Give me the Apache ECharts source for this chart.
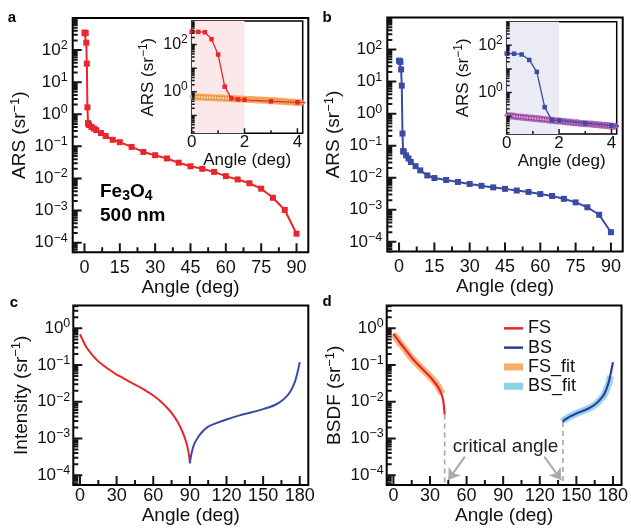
<!DOCTYPE html>
<html><head><meta charset="utf-8">
<script src="https://cdn.jsdelivr.net/npm/echarts@6/dist/echarts.min.js"></script>
<style>html,body{margin:0;padding:0;background:#fff}#c{width:631px;height:529px}</style>
</head><body><div id="c"></div><script>
// ---------------- data ----------------
const aAngles = [0,0.25,0.5,0.75,1,1.25,1.5,1.75,2,3,4,5,7,9,12,15,20,25,30,35,40,45,50,55,60,65,70,75,80,85,90];
const aValues = [350,345,335,170,38,1.65,0.53,0.48,0.46,0.40,0.36,0.32,0.26,0.21,0.16,0.135,0.096,0.067,0.053,0.042,0.031,0.024,0.020,0.016,0.0118,0.0093,0.0071,0.0048,0.0025,0.00104,0.00019];
const bAngles = [0,0.28,0.57,0.86,1.15,1.45,1.72,2,3,4,5,7,9,12,15,20,25,30,35,40,45,50,55,60,65,70,75,80,85,90];
const bValues = [45,44,41,24,7.5,0.24,0.068,0.065,0.050,0.040,0.031,0.023,0.017,0.0118,0.0098,0.0085,0.0074,0.0064,0.0056,0.0050,0.0045,0.0040,0.0036,0.0031,0.0027,0.0022,0.0017,0.0012,0.0007,0.0002];
const fitAngles = [0,0.1,0.2,0.3,0.4,0.5,0.6,0.7,0.8,0.9,1.0,1.1,1.2,1.3,1.4,1.5,1.6,1.7,1.8,1.9,2.0,2.1,2.2,2.3,2.4,2.5,2.6,2.7,2.8,2.9,3.0,3.1,3.2,3.3,3.4,3.5,3.6,3.7,3.8,3.9,4.0,4.1,4.2];
const aFitValues = [0.63,0.62,0.61,0.60,0.59,0.585,0.58,0.57,0.565,0.56,0.55,0.545,0.54,0.53,0.525,0.52,0.51,0.505,0.50,0.495,0.49,0.48,0.475,0.47,0.46,0.455,0.45,0.44,0.435,0.43,0.42,0.415,0.41,0.40,0.395,0.39,0.38,0.375,0.37,0.36,0.355,0.35,0.345];
const bFitValues = [0.107,0.104,0.101,0.098,0.095,0.093,0.090,0.088,0.085,0.083,0.081,0.079,0.077,0.075,0.073,0.071,0.069,0.067,0.065,0.063,0.062,0.060,0.059,0.057,0.056,0.054,0.053,0.052,0.050,0.049,0.048,0.047,0.046,0.045,0.044,0.043,0.042,0.041,0.040,0.039,0.038,0.0375,0.037];
const cRedAngles = [0,2,5,10,15,20,25,30,35,40,45,50,55,60,65,70,75,80,84,87,89,90];
const cRedValues = [0.69,0.50,0.316,0.19,0.126,0.093,0.071,0.055,0.045,0.036,0.0295,0.024,0.019,0.0148,0.011,0.0076,0.005,0.0028,0.0015,0.00079,0.0004,0.00022];
const cBlueAngles = [90,91,93,96,100,105,110,120,130,140,150,155,160,165,170,173,176,178,180];
const cBlueValues = [0.00021,0.00035,0.00063,0.001,0.0015,0.0021,0.0025,0.0033,0.0042,0.0051,0.0063,0.0071,0.0083,0.0105,0.015,0.021,0.035,0.06,0.12];
const dFSAngles = [0,3,6,10,15,20,25,30,35,38,40,41,42];
const dFSValues = [0.72,0.52,0.38,0.26,0.158,0.105,0.071,0.048,0.030,0.021,0.014,0.010,0.0045];
const dFSFitAngles = [0,3,6,10,15,20,25,30,35,38,40];
const dFSFitValues = [0.70,0.51,0.37,0.255,0.155,0.104,0.071,0.049,0.031,0.022,0.0165];
const dBSAngles = [139,140,142,145,150,155,160,165,170,173,176,178,180];
const dBSValues = [0.0028,0.0032,0.0035,0.004,0.0048,0.0056,0.0066,0.0083,0.012,0.0166,0.030,0.056,0.12];
const dBSFitAngles = [139,140,142,145,150,155,160,165,170,173,176,178];
const dBSFitValues = [0.0029,0.0032,0.0035,0.004,0.0048,0.0056,0.0066,0.0082,0.0118,0.016,0.028,0.05];
const criticalAngles = [42,139];
const criticalTops = [0.0045,0.0028];
// tick labels
const mainXTicks = [0,15,30,45,60,75,90];
const mainXMinor = [7.5,22.5,37.5,52.5,67.5,82.5];
const mainYLabels = [1e-4,1e-3,1e-2,1e-1,1,10,100];
const insetXTicks = [0,2,4];
const insetXMinor = [1,3];
const insetYMajor = [0.1,1,10,100];
const insetYLabels = [1,100];
const cdXTicks = [0,30,60,90,120,150,180];
const cdXMinor = [15,45,75,105,135,165];
const cdYLabels = [1e-4,1e-3,1e-2,1e-1,1];

// ---------------- helpers ----------------
const FONT = '"Liberation Sans", Arial, Helvetica, sans-serif';
const RED = '#E8262B', BLUE = '#3A4BA6', TICK = '#151515';
const zip = (xs, ys) => xs.map((x, i) => [x, ys[i]]);
function minors(lo, hi) {
  const out = [];
  for (let k = -6; k <= 3; k++) for (let m = 2; m <= 9; m++) {
    const v = m * Math.pow(10, k);
    if (v >= lo && v <= hi) out.push(v);
  }
  return out;
}
function supText(v) {
  const e = Math.round(Math.log10(v));
  return '{m|10}{e|' + (e < 0 ? '\u2212' + (-e) : String(e)) + '}';
}
const grids = [], xAxis = [], yAxis = [], series = [];
// tick marks: short inward segments drawn as a gapped line series on the panel's own axes
function tickSeries(p, c, dim, vals, len) {
  const data = [];
  if (dim === 'x') {
    const f = Math.pow(10, len * Math.log10(c.ymax / c.ymin) / c.h);
    vals.forEach(v => data.push([v, c.ymin], [v, c.ymin * f], ['-', '-']));
  } else {
    const dx = len * (c.xmax - c.xmin) / c.w;
    vals.forEach(v => data.push([c.xmin, v], [c.xmin + dx, v], ['-', '-']));
  }
  series.push({type: 'line', xAxisIndex: p.xi, yAxisIndex: p.yi, data: data, symbol: 'none',
    silent: true, clip: false, z: 6, lineStyle: {color: TICK, width: c.tw}});
}
function panel(c) {
  const gi = grids.length;
  grids.push({left: c.l, top: c.t, width: c.w, height: c.h, show: true, borderColor: '#000', borderWidth: c.bw});
  const xi = xAxis.length, yi = yAxis.length;
  const base = () => ({gridIndex: gi, splitLine: {show: false}, axisTick: {show: false}, axisLine: {show: false, onZero: false}});
  xAxis.push(Object.assign(base(), {type: 'value', position: 'bottom', min: c.xmin, max: c.xmax,
    name: c.xname, nameLocation: 'middle', nameGap: c.xnameGap,
    nameTextStyle: {fontFamily: FONT, fontSize: c.nameSize, color: '#111'},
    axisLabel: {show: true, customValues: c.xMajorLabels, margin: c.xMargin, fontFamily: FONT, fontSize: c.xLabelSize, color: '#111', formatter: v => String(v)}}));
  yAxis.push(Object.assign(base(), {type: 'log', logBase: 10, position: 'left', min: c.ymin, max: c.ymax,
    name: c.yname, nameLocation: 'middle', nameGap: c.ynameGap,
    nameTextStyle: {fontFamily: FONT, fontSize: c.nameSize, color: '#111', lineHeight: 22,
      rich: {s: {fontFamily: FONT, fontSize: Math.round(c.nameSize * 0.68), color: '#111', verticalAlign: 'top', lineHeight: 12}}},
    axisLabel: {show: true, customValues: c.yLabels, margin: c.yMargin, formatter: supText,
      rich: {m: {fontFamily: FONT, fontSize: c.yLabelSize, color: '#111', lineHeight: 22},
             e: {fontFamily: FONT, fontSize: c.supSize, color: '#111', verticalAlign: 'top', lineHeight: 12}}}}));
  const p = {xi: xi, yi: yi};
  tickSeries(p, c, 'x', c.xMajor, c.maj);
  tickSeries(p, c, 'x', c.xMinor, c.min);
  tickSeries(p, c, 'y', c.yMajor, c.maj);
  tickSeries(p, c, 'y', minors(c.ymin, c.ymax), c.min);
  return p;
}
const yName = (t) => t + ' (sr{s|\u22121})';
const mainCfg = {bw: 2, xmin: -5, xmax: 95, ymin: 5e-5, ymax: 1000, xMajor: mainXTicks, xMajorLabels: mainXTicks, xMinor: mainXMinor,
  yMajor: mainYLabels, yLabels: mainYLabels, xname: 'Angle (deg)', nameSize: 19, xnameGap: 21, xMargin: 7, yMargin: 5,
  xLabelSize: 18, yLabelSize: 17, supSize: 12.5, maj: 9, min: 5, tw: 2};
const insetCfg = {bw: 1.5, xmin: 0, xmax: 4.2, ymin: 0.0175, ymax: 1000, xMajor: insetXTicks, xMajorLabels: insetXTicks, xMinor: insetXMinor,
  yMajor: insetYMajor, yLabels: insetYLabels, xname: 'Angle (deg)', yname: yName('ARS'), nameSize: 17, xnameGap: 17, ynameGap: 27, xMargin: 1, yMargin: 4,
  xLabelSize: 17, yLabelSize: 16, supSize: 12, maj: 5, min: 3, tw: 1.5};
const cdCfg = {bw: 2, xmin: -5.5, xmax: 187, ymin: 5.4e-5, ymax: 4.2, xMajor: cdXTicks, xMajorLabels: cdXTicks, xMinor: cdXMinor,
  yMajor: cdYLabels, yLabels: cdYLabels, xname: 'Angle (deg)', nameSize: 19, xnameGap: 19, xMargin: 2, yMargin: 3,
  xLabelSize: 18, yLabelSize: 17, supSize: 12.5, maj: 9, min: 5, tw: 2};

const A = panel(Object.assign({}, mainCfg, {l: 72.7, t: 18, w: 235.6, h: 234.3, yname: yName('ARS'), ynameGap: 38}));
const AI = panel(Object.assign({}, insetCfg, {l: 191.7, t: 21, w: 111, h: 112.3}));
const B = panel(Object.assign({}, mainCfg, {l: 387.3, t: 17.5, w: 235.4, h: 234, yname: yName('ARS'), ynameGap: 39.5}));
const BI = panel(Object.assign({}, insetCfg, {l: 506.7, t: 21.7, w: 110, h: 112.3, ynameGap: 28}));
const C = panel(Object.assign({}, cdCfg, {l: 73.3, t: 305.5, w: 235, h: 179.5, yname: yName('Intensity'), ynameGap: 41}));
const D = panel(Object.assign({}, cdCfg, {l: 386.7, t: 305.5, w: 235, h: 179.5, yname: yName('BSDF'), ynameGap: 40.5}));

const on = (p) => ({xAxisIndex: p.xi, yAxisIndex: p.yi});
// panel a
series.push(Object.assign(on(A), {type: 'line', data: zip(aAngles, aValues), symbol: 'rect', symbolSize: 6,
  lineStyle: {color: RED, width: 2}, itemStyle: {color: RED}, z: 3, clip: true}));
series.push(Object.assign(on(AI), {type: 'line', data: [], z: 1,
  markArea: {silent: true, itemStyle: {color: '#FCE8E9'}, data: [[{xAxis: 0}, {xAxis: 2}]]}}));
series.push(Object.assign(on(AI), {type: 'line', data: zip(fitAngles, aFitValues), symbol: 'circle', symbolSize: 3.5,
  lineStyle: {color: '#F6A24F', width: 7, opacity: 0.9}, itemStyle: {color: '#FFD7A6', borderColor: '#E27C22', borderWidth: 0.7}, z: 2, clip: true}));
series.push(Object.assign(on(AI), {type: 'line', data: zip(aAngles, aValues), symbol: 'rect', symbolSize: 4.5,
  lineStyle: {color: RED, width: 1.3}, itemStyle: {color: RED}, z: 3, clip: true}));
// panel b
series.push(Object.assign(on(B), {type: 'line', data: zip(bAngles, bValues), symbol: 'rect', symbolSize: 6,
  lineStyle: {color: BLUE, width: 2}, itemStyle: {color: BLUE}, z: 3, clip: true}));
series.push(Object.assign(on(BI), {type: 'line', data: [], z: 1,
  markArea: {silent: true, itemStyle: {color: '#EBEBF6'}, data: [[{xAxis: 0}, {xAxis: 2}]]}}));
series.push(Object.assign(on(BI), {type: 'line', data: zip(fitAngles, bFitValues), symbol: 'circle', symbolSize: 3.5,
  lineStyle: {color: '#B156B3', width: 7, opacity: 0.9}, itemStyle: {color: '#D9A6DA', borderColor: '#7E2A80', borderWidth: 0.7}, z: 2, clip: true}));
series.push(Object.assign(on(BI), {type: 'line', data: zip(bAngles, bValues), symbol: 'rect', symbolSize: 4.5,
  lineStyle: {color: BLUE, width: 1.3}, itemStyle: {color: BLUE}, z: 3, clip: true}));
// panel c
series.push(Object.assign(on(C), {type: 'line', data: zip(cRedAngles, cRedValues), symbol: 'none', smooth: 0.3,
  lineStyle: {color: RED, width: 2}, z: 3}));
series.push(Object.assign(on(C), {type: 'line', data: zip(cBlueAngles, cBlueValues), symbol: 'none', smooth: 0.3,
  lineStyle: {color: BLUE, width: 2}, z: 3}));
// panel d
series.push(Object.assign(on(D), {name: 'FS_fit', type: 'line', data: zip(dFSFitAngles, dFSFitValues), symbol: 'none', smooth: 0.3,
  color: '#F7AE6A', lineStyle: {color: '#F7AE6A', width: 7, opacity: 0.9}, itemStyle: {color: '#F7AE6A'}, z: 2}));
series.push(Object.assign(on(D), {name: 'BS_fit', type: 'line', data: zip(dBSFitAngles, dBSFitValues), symbol: 'none', smooth: 0.3,
  color: '#8DD3E7', lineStyle: {color: '#8DD3E7', width: 7, opacity: 0.9}, itemStyle: {color: '#8DD3E7'}, z: 2}));
series.push(Object.assign(on(D), {name: 'FS', type: 'line', data: zip(dFSAngles, dFSValues), symbol: 'none', smooth: 0.3,
  color: RED, lineStyle: {color: RED, width: 2.2}, itemStyle: {color: RED}, z: 3}));
series.push(Object.assign(on(D), {name: 'BS', type: 'line', data: zip(dBSAngles, dBSValues), symbol: 'none', smooth: 0.3,
  color: '#2C3E9E', lineStyle: {color: '#2C3E9E', width: 2.2}, itemStyle: {color: '#2C3E9E'}, z: 3}));
criticalAngles.forEach((ang, i) => {
  series.push(Object.assign(on(D), {type: 'line', data: [[ang, criticalTops[i]], [ang, cdCfg.ymin]], symbol: 'none',
    lineStyle: {color: '#A6A6A6', width: 1.6, type: [5, 4]}, z: 2}));
});
series.push(Object.assign(on(D), {type: 'line', data: [], z: 4,
  markLine: {silent: true, symbol: ['none', 'arrow'], symbolSize: 11, label: {show: false},
    lineStyle: {color: '#A9A9A9', width: 2, type: 'solid'},
    data: [[{coord: [58.6, 3.2e-4]}, {coord: [45, 7.4e-5]}], [{coord: [123.7, 3.2e-4]}, {coord: [137.5, 7.4e-5]}]]}}));

const legendText = {fontFamily: FONT, fontSize: 18, color: '#111', lineHeight: 19.3};
const option = {
  animation: false,
  grid: grids, xAxis: xAxis, yAxis: yAxis, series: series,
  legend: [
    {data: ['FS', 'BS'], orient: 'vertical', left: 504, top: 318.7, padding: 0, itemGap: 0, icon: 'rect',
     itemWidth: 19, itemHeight: 2.5, selectedMode: false, textStyle: legendText, itemStyle: {borderWidth: 0}, lineStyle: {width: 0}},
    {data: ['FS_fit', 'BS_fit'], orient: 'vertical', left: 504, top: 357.3, padding: 0, itemGap: 0, icon: 'rect',
     itemWidth: 19, itemHeight: 7, selectedMode: false, textStyle: legendText, itemStyle: {borderWidth: 0}, lineStyle: {width: 0}}
  ],
  graphic: [
    {type: 'text', x: 12, y: 18, style: {text: 'a', font: 'bold 15px ' + FONT, fill: '#000', align: 'center', verticalAlign: 'middle'}},
    {type: 'text', x: 327, y: 17.5, style: {text: 'b', font: 'bold 15px ' + FONT, fill: '#000', align: 'center', verticalAlign: 'middle'}},
    {type: 'text', x: 14, y: 303, style: {text: 'c', font: 'bold 15px ' + FONT, fill: '#000', align: 'center', verticalAlign: 'middle'}},
    {type: 'text', x: 327, y: 302, style: {text: 'd', font: 'bold 15px ' + FONT, fill: '#000', align: 'center', verticalAlign: 'middle'}},
    {type: 'text', x: 100, y: 192, style: {text: '{b|Fe}{s|3}{b|O}{s|4}', align: 'left', verticalAlign: 'middle',
      rich: {b: {font: 'bold 19px ' + FONT, fill: '#000', lineHeight: 22}, s: {font: 'bold 14px ' + FONT, fill: '#000', verticalAlign: 'bottom', lineHeight: 16}}}},
    {type: 'text', x: 100, y: 215.5, style: {text: '500 nm', font: 'bold 19px ' + FONT, fill: '#000', align: 'left', verticalAlign: 'middle'}},
    {type: 'text', x: 505.5, y: 446.7, style: {text: 'critical angle', font: '19px ' + FONT, fill: '#222', align: 'center', verticalAlign: 'middle'}}
  ]
};
const chart = echarts.init(document.getElementById('c'), null, {renderer: 'canvas'});
chart.setOption(option);
</script></body></html>
